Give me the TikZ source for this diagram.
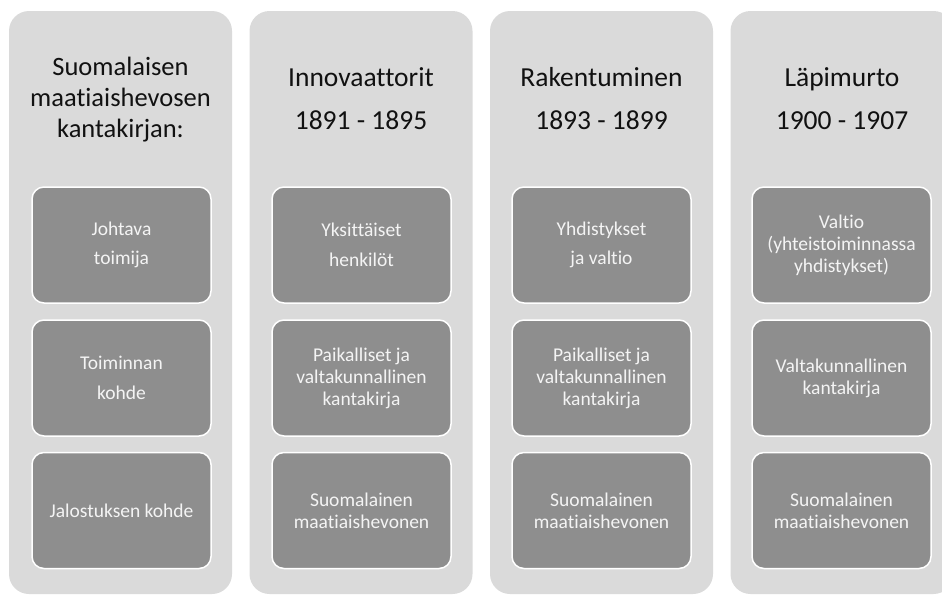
\documentclass[tikz,border=0pt]{standalone}
\usepackage{fontspec}
\setmainfont{Carlito}[RawFeature={-liga,-clig,-calt}]
\definecolor{colfill}{HTML}{DADADA}
\definecolor{boxfill}{HTML}{8E8E8E}
\definecolor{boxtext}{HTML}{F4F4F4}
\definecolor{headtext}{HTML}{111111}
\begin{document}
\begin{tikzpicture}[x=1pt,y=-1pt,
  column/.style={rectangle,rounded corners=20pt,fill=colfill,draw=none,minimum width=223pt,minimum height=583pt,inner sep=0pt},
  itembox/.style={rectangle,rounded corners=12pt,fill=boxfill,draw=white,line width=1.5pt,minimum width=179pt,minimum height=116pt,inner sep=0pt,text=boxtext,align=center},
  twoline/.style={font=\fontsize{19.5}{29.5}\selectfont},
  threeline/.style={font=\fontsize{19.5}{22}\selectfont},
  headone/.style={text=headtext,align=center,font=\fontsize{26.5}{31}\selectfont},
  headtwo/.style={text=headtext,align=center,font=\fontsize{27.5}{43}\selectfont}]
\useasboundingbox (0,0) rectangle (942,595);
\begin{scope}
\clip (0,0) rectangle (942,595);
% columns
\node[column] (c1) at (120.5,302.5) {};
\node[column] (c2) at (361,302.5) {};
\node[column] (c3) at (601.5,302.5) {};
\node[column] (c4) at (842,302.5) {};
\end{scope}
% headers
\node[headone] (h1) at (120.5,100) {Suomalaisen\\maatiaishevosen\\kantakirjan:};
\node[headtwo] (h2) at (361,99) {Innovaattorit\\1891 - 1895};
\node[headtwo] (h3) at (601.5,99) {Rakentuminen\\1893 - 1899};
\node[headtwo] (h4) at (842,99) {Läpimurto\\1900 - 1907};
% column 1
\node[itembox,twoline] (a1) at (121.5,245) {Johtava\\toimija};
\node[itembox,twoline] (a2) at (121.5,378) {Toiminnan\\kohde};
\node[itembox,twoline] (a3) at (121.5,510.5) {Jalostuksen kohde};
% column 2
\node[itembox,twoline] (b1) at (361.5,245) {Yksittäiset\\henkilöt};
\node[itembox,threeline] (b2) at (361.5,378) {Paikalliset ja\\valtakunnallinen\\kantakirja};
\node[itembox,threeline] (b3) at (361.5,510.5) {Suomalainen\\maatiaishevonen};
% column 3
\node[itembox,twoline] (d1) at (601.5,245) {Yhdistykset\\ja valtio};
\node[itembox,threeline] (d2) at (601.5,378) {Paikalliset ja\\valtakunnallinen\\kantakirja};
\node[itembox,threeline] (d3) at (601.5,510.5) {Suomalainen\\maatiaishevonen};
% column 4
\node[itembox,threeline] (e1) at (841.5,245) {Valtio\\(yhteistoiminnassa\\yhdistykset)};
\node[itembox,threeline] (e2) at (841.5,378) {Valtakunnallinen\\kantakirja};
\node[itembox,threeline] (e3) at (841.5,510.5) {Suomalainen\\maatiaishevonen};
\end{tikzpicture}
\end{document}
